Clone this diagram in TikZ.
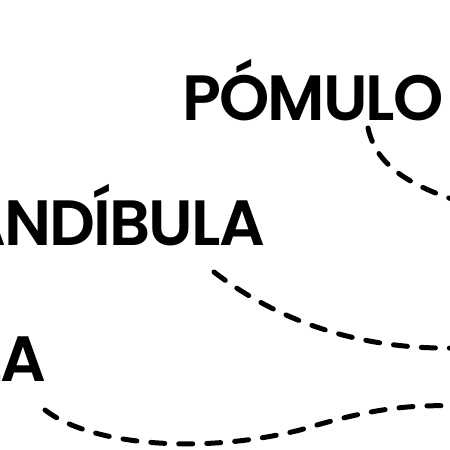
\documentclass[tikz,border=0pt]{standalone}
\usepackage{fontspec}
\setmainfont{Poppins}[UprightFont=* SemiBold]
\begin{document}
\begin{tikzpicture}[x=1pt,y=-1pt,
  lbl/.style={inner sep=0pt,font=\fontsize{64}{64}\selectfont\addfontfeatures{LetterSpace=-3}},
  dashline/.style={line width=5pt,line cap=round,dash pattern=on 14pt off 14pt}]
\useasboundingbox (0,0) rectangle (450,450);
\node[lbl,anchor=base west] (pomulo) at (182,120) {PÓMULO};
\node[lbl,anchor=base east] (mand) at (265,245) {MANDÍBULA};
\node[lbl,anchor=base east] (barb) at (46,381) {BARBILLA};
\coordinate (c1s) at (368,128);
\coordinate (c1e) at (455,200);
\coordinate (c2s) at (214,272);
\coordinate (c2e) at (455,348);
\coordinate (c3s) at (45,410);
\coordinate (c3m) at (300,430);
\coordinate (c3e) at (455,406);
\draw[dashline] (c1s) .. controls (375,160) and (400,182) .. (c1e);
\draw[dashline] (c2s) .. controls (270,315) and (350,350) .. (c2e);
\draw[dashline] (c3s) .. controls (90,445) and (200,455) .. (c3m) .. controls (360,412) and (400,404) .. (c3e);
\end{tikzpicture}
\end{document}
